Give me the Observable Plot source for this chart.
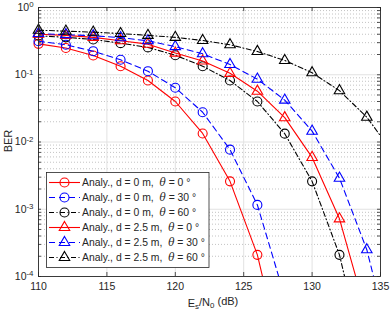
<!DOCTYPE html>
<html><head><meta charset="utf-8">
<script src="https://cdn.jsdelivr.net/npm/d3@7"></script>
<script src="https://cdn.jsdelivr.net/npm/@observablehq/plot@0.6"></script>
<style>
body{margin:0;background:#fff;}
</style></head><body><div id="chart"></div>
<script>
// ---- data ----
const snr = [110,112,114,116,118,120,122,124,126,128,130,132,134,136];
const ber_d0_t0   = [0.288,0.250,0.193,0.134,0.082,0.040,0.0134,0.0026,0.00021,0.000004];
const ber_d0_t30  = [0.315,0.279,0.224,0.167,0.113,0.064,0.0277,0.0077,0.00116,0.00005];
const ber_d0_t60  = [0.380,0.360,0.335,0.295,0.255,0.195,0.134,0.082,0.040,0.0133,0.0026,0.00021,0.000004];
const ber_d25_t0  = [0.400,0.385,0.360,0.320,0.285,0.210,0.160,0.105,0.057,0.023,0.0059,0.00072,0.000026];
const ber_d25_t30 = [0.410,0.395,0.380,0.356,0.320,0.262,0.205,0.142,0.086,0.042,0.0145,0.0029,0.00025,0.000006];
const ber_d25_t60 = [0.460,0.445,0.430,0.410,0.385,0.360,0.323,0.279,0.222,0.163,0.107,0.058,0.0234,0.0065];

const seriesD = ["0","0","0","2.5","2.5","2.5"];
const seriesTheta = ["0","30","60","0","30","60"];
const seriesValues = [ber_d0_t0, ber_d0_t30, ber_d0_t60, ber_d25_t0, ber_d25_t30, ber_d25_t60];
const seriesColor = ["#ff0000","#0000ff","#000000","#ff0000","#0000ff","#000000"];
const seriesDash = [null,"6,4","5,2.5,1,2.5",null,"6,4","5,2.5,1,2.5"];
const seriesSymbol = ["circle","circle","circle","triangle","triangle","triangle"];

const xTicks = [110,115,120,125,130,135];
const yMajor = [1e-4,1e-3,1e-2,1e-1,1];
const yMinor = [];
for (let e = -4; e < 0; e++) for (let k = 2; k <= 9; k++) yMinor.push(k * Math.pow(10, e));
const xLabel = ["E","s","/N","0"," (dB)"];
const yLabel = "BER";

// ---- layout ----
const W = 390, H = 314, mL = 38, mR = 10, mT = 7, mB = 38;
const fw = W - mL - mR, fh = H - mT - mB;
const ink = "#262626";
const rCircle = 4.5, rTri = 3.9;

const rows = [];
seriesValues.forEach((vals, i) => vals.forEach((v, j) => rows.push({s: i, x: snr[j], y: v})));
const inDomain = d => d.x >= 110 && d.x <= 135 && d.y >= 1e-4 && d.y <= 1;

const marks = [
  Plot.ruleY(yMinor, {y: d => d, stroke: "#b4b4b4", strokeWidth: 0.8, strokeDasharray: "1,2"}),
  Plot.ruleY(yMajor.slice(1, -1), {y: d => d, stroke: "#e2e2e2"}),
  Plot.ruleX(xTicks.slice(1, -1), {x: d => d, stroke: "#e2e2e2"}),
];
seriesValues.forEach((vals, i) => {
  const data = rows.filter(d => d.s === i);
  marks.push(Plot.line(data, {x: "x", y: "y", stroke: seriesColor[i], strokeWidth: 1.1,
    strokeDasharray: seriesDash[i] || undefined, clip: true}));
  marks.push(Plot.dot(data.filter(inDomain), {x: "x", y: "y", symbol: seriesSymbol[i],
    r: seriesSymbol[i] === "circle" ? rCircle : rTri, stroke: seriesColor[i], strokeWidth: 1.1, fill: "none"}));
});
marks.push(
  Plot.tickY(yMajor.concat(yMinor), {y: d => d, insetRight: fw - 3, stroke: ink, strokeWidth: 0.8}),
  Plot.tickY(yMajor.concat(yMinor), {y: d => d, insetLeft: fw - 3, stroke: ink, strokeWidth: 0.8}),
  Plot.tickX(xTicks, {x: d => d, insetTop: fh - 4, stroke: ink, strokeWidth: 0.8}),
  Plot.tickX(xTicks, {x: d => d, insetBottom: fh - 4, stroke: ink, strokeWidth: 0.8}),
  Plot.frame({stroke: ink, strokeWidth: 0.9}),
  Plot.axisX(xTicks, {tickSize: 0, tickPadding: 6, label: null, fill: ink}),
  Plot.axisY(yMajor, {tickSize: 0, tickPadding: 5, label: null, fill: ink,
    tickFormat: d => "10^" + Math.round(Math.log10(d))})
);

const plot = Plot.plot({
  width: W, height: H, marginLeft: mL, marginRight: mR, marginTop: mT, marginBottom: mB,
  style: {fontFamily: "'Liberation Sans', Arial, sans-serif", fontSize: "10.5px", background: "white", color: ink},
  x: {domain: [110, 135]},
  y: {type: "log", domain: [1e-4, 1]},
  marks
});
document.getElementById("chart").appendChild(plot);

const svg = d3.select(plot);
// superscripts on y tick labels
svg.selectAll('g[aria-label="y-axis tick label"] text').each(function() {
  const t = d3.select(this);
  const [b, e] = t.text().split("^");
  t.text("");
  t.append("tspan").text(b);
  t.append("tspan").attr("dy", "-0.45em").attr("font-size", "0.75em").text(e);
});

// axis labels
const xl = svg.append("text").attr("x", 213).attr("y", 307).attr("text-anchor", "middle")
  .attr("fill", ink).attr("font-size", 11);
xl.append("tspan").text(xLabel[0]);
xl.append("tspan").attr("dy", "0.3em").attr("font-size", "0.72em").text(xLabel[1]);
xl.append("tspan").attr("dy", "-0.3em").text(xLabel[2]);
xl.append("tspan").attr("dy", "0.3em").attr("font-size", "0.72em").text(xLabel[3]);
xl.append("tspan").attr("dy", "-0.3em").text(xLabel[4]);

svg.append("text").attr("transform", "translate(12,141) rotate(-90)").attr("text-anchor", "middle")
  .attr("fill", ink).attr("font-size", 11).text(yLabel);

// legend
const lg = svg.append("g").attr("text-anchor", "start");
lg.append("rect").attr("x", 46.5).attr("y", 172.5).attr("width", 162.5).attr("height", 95)
  .attr("fill", "white").attr("stroke", ink).attr("stroke-width", 0.8);
seriesValues.forEach((_, i) => {
  const cy = 182.5 + i * 15;
  lg.append("line").attr("x1", 49).attr("x2", 80).attr("y1", cy).attr("y2", cy)
    .attr("stroke", seriesColor[i]).attr("stroke-width", 1.1)
    .attr("stroke-dasharray", seriesDash[i] || null);
  if (seriesSymbol[i] === "circle") {
    lg.append("circle").attr("cx", 64.5).attr("cy", cy).attr("r", rCircle)
      .attr("fill", "none").attr("stroke", seriesColor[i]).attr("stroke-width", 1.1);
  } else {
    lg.append("path").attr("d", d3.symbol(d3.symbolTriangle, Math.PI * rTri * rTri)())
      .attr("transform", `translate(64.5,${cy})`)
      .attr("fill", "none").attr("stroke", seriesColor[i]).attr("stroke-width", 1.1);
  }
  const t = lg.append("text").attr("x", 82).attr("y", cy).attr("dy", "0.35em")
    .attr("text-anchor", "start")
    .attr("fill", ink).attr("font-size", 10.4).style("white-space", "pre");
  t.append("tspan").text(`Analy., d = ${seriesD[i]} m,  `);
  t.append("tspan").attr("font-style", "italic").attr("font-family", "'DejaVu Serif', serif").text("θ");
  t.append("tspan").text(` = ${seriesTheta[i]} °`);
});
</script>
</body></html>
